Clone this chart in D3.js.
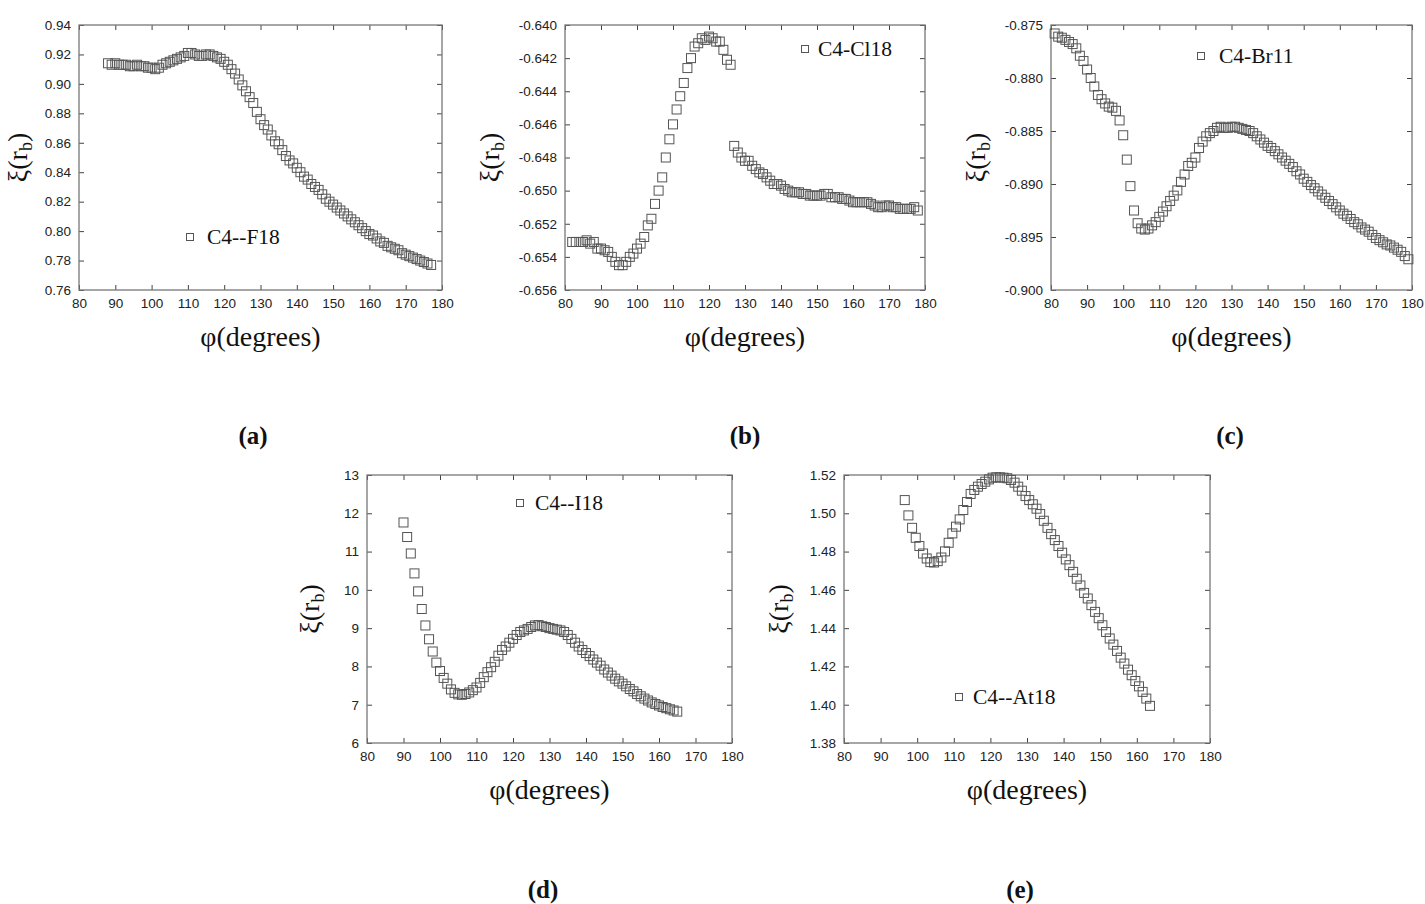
<!DOCTYPE html>
<html>
<head>
<meta charset="utf-8">
<script src="https://cdn.jsdelivr.net/npm/d3@7"></script>
<style>
  body { margin: 0; background: #fff; }
  .tick-label { font-family: "Liberation Sans", Arial, sans-serif; font-size: 13.5px; fill: #222; }
  .serif { font-family: "Liberation Serif", "Times New Roman", serif; fill: #111; }
</style>
</head>
<body>
<svg id="fig" width="1425" height="904"></svg>
<script>
// x axis ticks, shared by all panels
const phiTicks = [80, 90, 100, 110, 120, 130, 140, 150, 160, 170, 180];

// (a) C4--F18
const fAngles = d3.range(88, 178);
const fValues = [
  0.914, 0.913, 0.914, 0.913, 0.913, 0.913, 0.912, 0.912, 0.913, 0.912,
  0.912, 0.911, 0.911, 0.910, 0.911, 0.913, 0.914, 0.915, 0.916, 0.917,
  0.918, 0.919, 0.921, 0.921, 0.920, 0.919, 0.919, 0.920, 0.920, 0.919,
  0.918, 0.917, 0.915, 0.913, 0.910, 0.907, 0.903, 0.899, 0.895, 0.891,
  0.887, 0.881, 0.876, 0.872, 0.869, 0.865, 0.861, 0.859, 0.855, 0.851,
  0.848, 0.846, 0.843, 0.840, 0.837, 0.835, 0.832, 0.830, 0.828, 0.825,
  0.822, 0.820, 0.818, 0.816, 0.814, 0.812, 0.810, 0.808, 0.806, 0.804,
  0.802, 0.800, 0.798, 0.797, 0.795, 0.793, 0.792, 0.790, 0.789, 0.788,
  0.787, 0.785, 0.784, 0.783, 0.782, 0.781, 0.780, 0.779, 0.778, 0.777
];
const fTicks = [0.76, 0.78, 0.80, 0.82, 0.84, 0.86, 0.88, 0.90, 0.92, 0.94];

// (b) C4-Cl18
const clAngles = d3.range(82, 179);
const clValues = [
  -0.6531, -0.6531, -0.6531, -0.6531, -0.6530, -0.6532, -0.6531, -0.6535, -0.6535, -0.6536,
  -0.6537, -0.6540, -0.6543, -0.6545, -0.6545, -0.6543, -0.6540, -0.6538, -0.6535, -0.6532,
  -0.6528, -0.6521, -0.6517, -0.6508, -0.6500, -0.6492, -0.6480, -0.6469, -0.6460, -0.6451,
  -0.6443, -0.6435, -0.6426, -0.6420, -0.6413, -0.6411, -0.6408, -0.6409, -0.6407, -0.6408,
  -0.6410, -0.6410, -0.6415, -0.6421, -0.6424,
  -0.6473, -0.6477, -0.6480, -0.6482, -0.6482, -0.6485, -0.6487, -0.6489, -0.6490, -0.6492,
  -0.6494, -0.6496, -0.6496, -0.6497, -0.6499, -0.6500, -0.6501, -0.6501, -0.6501, -0.6502,
  -0.6502, -0.6503, -0.6503, -0.6503, -0.6503, -0.6502, -0.6502, -0.6504, -0.6504, -0.6504,
  -0.6505, -0.6505, -0.6506, -0.6507, -0.6507, -0.6507, -0.6507, -0.6507, -0.6508, -0.6509,
  -0.6510, -0.6510, -0.6509, -0.6509, -0.6510, -0.6510, -0.6511, -0.6511, -0.6511, -0.6511,
  -0.6510, -0.6512
];
const clTicks = [-0.656, -0.654, -0.652, -0.650, -0.648, -0.646, -0.644, -0.642, -0.640];

// (c) C4-Br11
const brAngles = d3.range(81, 180);
const brValues = [
  -0.8758, -0.8761, -0.8762, -0.8764, -0.8766, -0.8768, -0.8772, -0.8779, -0.8784, -0.8792,
  -0.8800, -0.8808, -0.8816, -0.8820, -0.8824, -0.8827, -0.8828, -0.8831, -0.8840, -0.8854,
  -0.8877, -0.8902, -0.8925, -0.8937, -0.8942, -0.8943, -0.8942, -0.8939, -0.8936, -0.8931,
  -0.8926, -0.8921, -0.8916, -0.8911, -0.8906, -0.8898, -0.8891, -0.8883, -0.8880, -0.8875,
  -0.8866, -0.8860, -0.8855, -0.8852, -0.8850, -0.8847, -0.8846, -0.8847, -0.8847, -0.8846,
  -0.8846, -0.8847, -0.8848, -0.8849, -0.8850, -0.8852, -0.8855, -0.8858, -0.8861, -0.8864,
  -0.8866, -0.8869, -0.8872, -0.8875, -0.8878, -0.8881, -0.8884, -0.8888, -0.8891, -0.8895,
  -0.8898, -0.8901, -0.8904, -0.8907, -0.8910, -0.8913, -0.8916, -0.8919, -0.8922, -0.8925,
  -0.8928, -0.8930, -0.8933, -0.8936, -0.8938, -0.8941, -0.8943, -0.8945, -0.8948, -0.8951,
  -0.8953, -0.8955, -0.8957, -0.8958, -0.8960, -0.8962, -0.8964, -0.8968, -0.8971
];
const brTicks = [-0.900, -0.895, -0.890, -0.885, -0.880, -0.875];

// (d) C4--I18
const iAngles = d3.range(90, 166);
const iValues = [
  11.76, 11.38, 10.95, 10.43, 9.96, 9.50, 9.07, 8.71, 8.39, 8.10,
  7.88, 7.70, 7.55, 7.40, 7.31, 7.27, 7.26, 7.28, 7.32, 7.38,
  7.45, 7.57, 7.72, 7.85, 7.98, 8.12, 8.28, 8.43, 8.52, 8.62,
  8.72, 8.82, 8.90, 8.94, 8.98, 9.03, 9.07, 9.08, 9.05, 9.03,
  9.00, 8.98, 8.96, 8.94, 8.90, 8.82, 8.72, 8.62, 8.52, 8.43,
  8.35, 8.27, 8.18, 8.10, 8.02, 7.92, 7.84, 7.76, 7.68, 7.61,
  7.55, 7.48, 7.41, 7.35, 7.28, 7.22, 7.16, 7.11, 7.06, 7.02,
  6.98, 6.94, 6.91, 6.88, 6.85, 6.82
];
const iTicks = [6, 7, 8, 9, 10, 11, 12, 13];

// (e) C4--At18
const atAngles = d3.range(96.6, 164, 1);
const atValues = [
  1.5069, 1.4989, 1.4924, 1.4872, 1.4829, 1.4790, 1.4764, 1.4745, 1.4743, 1.4750,
  1.4769, 1.4801, 1.4846, 1.4895, 1.4930, 1.4968, 1.5017, 1.5059, 1.5101, 1.5122,
  1.5139, 1.5153, 1.5165, 1.5177, 1.5186, 1.5188, 1.5188, 1.5186, 1.5183, 1.5174,
  1.5160, 1.5139, 1.5118, 1.5090, 1.5069, 1.5047, 1.5024, 1.4996, 1.4961, 1.4924,
  1.4891, 1.4860, 1.4829, 1.4794, 1.4759, 1.4729, 1.4694, 1.4658, 1.4623, 1.4584,
  1.4555, 1.4520, 1.4485, 1.4452, 1.4415, 1.4380, 1.4346, 1.4314, 1.4281, 1.4246,
  1.4215, 1.4183, 1.4154, 1.4124, 1.4096, 1.4067, 1.4032, 1.3994
];
const atTicks = [1.38, 1.40, 1.42, 1.44, 1.46, 1.48, 1.50, 1.52];

const svg = d3.select("#fig");
// plain hyphen for negative numbers, like the original figure
const locale = d3.formatLocale({ decimal: ".", thousands: ",", grouping: [3], currency: ["", ""], minus: "-" });

function drawPanel(p) {
  const g = svg.append("g").attr("transform", `translate(${p.left},${p.top})`);
  const w = p.width, h = p.height;

  const x = d3.scaleLinear().domain([80, 180]).range([0, w]);
  const y = d3.scaleLinear().domain(d3.extent(p.yTicks)).range([h, 0]);

  // inward ticks on all four sides
  const axes = [
    [d3.axisBottom(x).tickValues(phiTicks).tickSize(-5).tickPadding(8), `translate(0,${h})`],
    [d3.axisTop(x).tickValues(phiTicks).tickSize(-5).tickFormat(""), "translate(0,0)"],
    [d3.axisLeft(y).tickValues(p.yTicks).tickSize(-5).tickPadding(8).tickFormat(locale.format(p.fmt)), "translate(0,0)"],
    [d3.axisRight(y).tickValues(p.yTicks).tickSize(-5).tickFormat(""), `translate(${w},0)`]
  ];
  axes.forEach(([ax, tr]) => {
    const a = g.append("g").attr("transform", tr).call(ax);
    a.select(".domain").remove();
    a.selectAll(".tick line").attr("stroke", "#444").attr("stroke-width", 1);
    a.selectAll(".tick text").attr("class", "tick-label").attr("font-family", null).attr("font-size", null);
  });

  g.append("rect")
    .attr("width", w).attr("height", h)
    .attr("fill", "none").attr("stroke", "#777").attr("stroke-width", 1.3);

  const pts = p.angles.map((a, i) => ({ a, v: p.values[i] }));
  g.selectAll("rect.pt").data(pts).enter().append("rect")
    .attr("class", "pt")
    .attr("x", d => x(d.a) - 4.5)
    .attr("y", d => y(d.v) - 4.5)
    .attr("width", 9).attr("height", 9)
    .attr("fill", "none").attr("stroke", "#555").attr("stroke-width", 1);

  // legend
  const lg = g.append("g").attr("transform", `translate(${p.legend[0]},${p.legend[1]})`);
  lg.append("rect").attr("x", -3.5).attr("y", -3.5).attr("width", 7).attr("height", 7)
    .attr("fill", "none").attr("stroke", "#555").attr("stroke-width", 1);
  lg.append("text").attr("class", "serif").attr("x", p.legendGap).attr("y", 7)
    .attr("font-size", 21.5).text(p.name);

  // x title
  g.append("text").attr("class", "serif")
    .attr("x", w / 2).attr("y", h + 56)
    .attr("text-anchor", "middle").attr("font-size", 28)
    .text("φ(degrees)");

  // y title
  const yt = g.append("text").attr("class", "serif")
    .attr("transform", `translate(${p.yTitleX},${h / 2}) rotate(-90)`)
    .attr("text-anchor", "middle").attr("font-size", 28);
  yt.append("tspan").text("ξ(r");
  yt.append("tspan").attr("font-size", 18).attr("dy", 5).text("b");
  yt.append("tspan").attr("dy", -5).text(")");

  // panel letter
  svg.append("text").attr("class", "serif")
    .attr("x", p.letterX).attr("y", p.letterY)
    .attr("text-anchor", "middle").attr("font-size", 25).attr("font-weight", "bold")
    .text(p.letter);
}

const panels = [
  { name: "C4--F18", angles: fAngles, values: fValues, yTicks: fTicks, fmt: ".2f",
    left: 79, top: 25, width: 363, height: 265, legend: [111, 212], legendGap: 17,
    yTitleX: -52, letter: "(a)", letterX: 253, letterY: 444 },
  { name: "C4-Cl18", angles: clAngles, values: clValues, yTicks: clTicks, fmt: ".3f",
    left: 565, top: 25, width: 360, height: 265, legend: [240, 24], legendGap: 13,
    yTitleX: -66, letter: "(b)", letterX: 745, letterY: 444 },
  { name: "C4-Br11", angles: brAngles, values: brValues, yTicks: brTicks, fmt: ".3f",
    left: 1051, top: 25, width: 361, height: 265, legend: [150, 31], legendGap: 18,
    yTitleX: -66, letter: "(c)", letterX: 1230, letterY: 444 },
  { name: "C4--I18", angles: iAngles, values: iValues, yTicks: iTicks, fmt: "d",
    left: 367, top: 475, width: 365, height: 268, legend: [153, 28], legendGap: 15,
    yTitleX: -48, letter: "(d)", letterX: 543, letterY: 898 },
  { name: "C4--At18", angles: atAngles, values: atValues, yTicks: atTicks, fmt: ".2f",
    left: 844, top: 475, width: 366, height: 268, legend: [115, 222], legendGap: 14,
    yTitleX: -56, letter: "(e)", letterX: 1020, letterY: 898 }
];

panels.forEach(drawPanel);
</script>
</body>
</html>
